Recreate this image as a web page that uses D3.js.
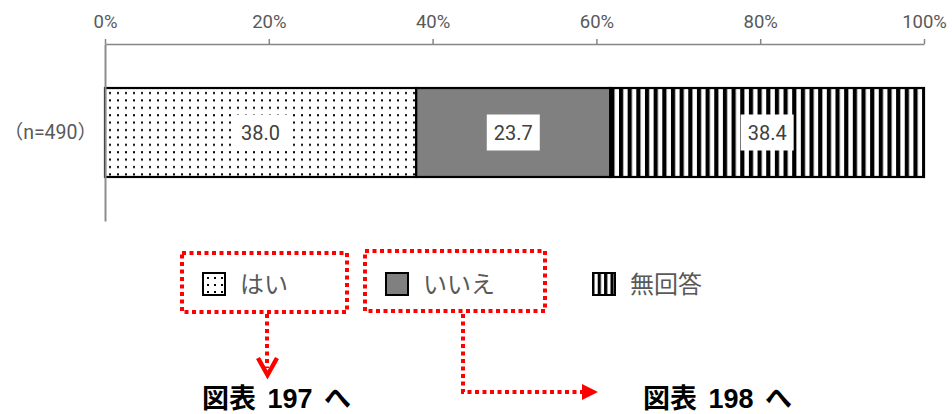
<!DOCTYPE html>
<html>
<head>
<meta charset="utf-8">
<script src="https://cdn.jsdelivr.net/npm/d3@7"></script>
<style>
  html, body { margin: 0; padding: 0; background: #fff; }
  svg { display: block; font-family: "Noto Sans CJK JP", "Noto Sans", sans-serif; }
</style>
</head>
<body>
<svg id="chart" width="952" height="414"></svg>
<script>
// ---- data ----
const categories = ["（n=490）"];
const seriesNames = ["はい", "いいえ", "無回答"];
const seriesValues = [38.0, 23.7, 38.4];
const tickValues = [0, 20, 40, 60, 80, 100];
const tickLabels = ["0%", "20%", "40%", "60%", "80%", "100%"];
const linkLabels = ["図表 197 へ", "図表 198 へ"];

const svg = d3.select("#chart");
const W = 952, H = 414;
const margin = { left: 105, right: 28, top: 44 };
const axisBottom = 221;

const x = d3.scaleLinear().domain([0, 100]).range([margin.left, W - margin.right]);
const y = d3.scaleBand().domain(categories).range([margin.top, axisBottom]).padding(0.331);

// ---- patterns ----
const defs = svg.append("defs");
const pDots = defs.append("pattern").attr("id", "dots").attr("patternUnits", "userSpaceOnUse")
  .attr("width", 8).attr("height", 7.4).attr("x", x(0) + 1).attr("y", y(categories[0]) + 2);
pDots.append("rect").attr("width", 8).attr("height", 7.4).attr("fill", "#fff");
pDots.append("rect").attr("x", 3).attr("y", 2).attr("width", 2).attr("height", 2).attr("fill", "#000");

const pStripe = defs.append("pattern").attr("id", "stripes").attr("patternUnits", "userSpaceOnUse")
  .attr("width", 8.66).attr("height", 10).attr("x", x(61.7));
pStripe.append("rect").attr("width", 8.66).attr("height", 10).attr("fill", "#fff");
pStripe.append("rect").attr("width", 4.2).attr("height", 10).attr("fill", "#000");

const fills = ["url(#dots)", "#808080", "url(#stripes)"];

// ---- axes ----
const gx = svg.append("g").attr("transform", `translate(0,${margin.top})`)
  .call(d3.axisTop(x).tickValues(tickValues).tickFormat((d, i) => tickLabels[i])
    .tickSize(5).tickSizeOuter(0).tickPadding(11));
gx.select(".domain").attr("stroke", "#868686").attr("stroke-width", 1.5);
gx.selectAll(".tick line").attr("stroke", "#868686").attr("stroke-width", 1.5);
gx.selectAll(".tick text").attr("fill", "#595959").style("font-size", "18.5px")
  .style("font-family", "Roboto, 'Noto Sans', sans-serif");

// ---- stacked bar ----
const stackData = [];
let acc = 0;
seriesValues.forEach((v, i) => { stackData.push({ name: seriesNames[i], v, x0: acc, x1: acc + v, fill: fills[i] }); acc += v; });

const bar = svg.append("g");
bar.selectAll("rect").data(stackData).join("rect")
  .attr("x", d => x(d.x0)).attr("width", d => x(Math.min(d.x1, 100)) - x(d.x0))
  .attr("y", y(categories[0])).attr("height", y.bandwidth())
  .attr("fill", d => d.fill).attr("stroke", "#000").attr("stroke-width", 2.2);

const gy = svg.append("g").attr("transform", `translate(${margin.left},0)`)
  .call(d3.axisLeft(y).tickSize(0).tickPadding(8).tickSizeOuter(0));
gy.select(".domain").attr("stroke", "#8c8c8c").attr("stroke-width", 2);
gy.selectAll(".tick text").attr("fill", "#595959").style("font-size", "19.5px")
  .style("font-family", "Roboto, 'Noto Sans CJK JP', sans-serif");

// labels
const lbl = svg.append("g").selectAll("g").data(stackData).join("g")
  .attr("transform", d => `translate(${x((d.x0 + Math.min(d.x1, 100)) / 2)},${y(categories[0]) + y.bandwidth() / 2})`);
lbl.append("rect").attr("x", -26.5).attr("y", -18).attr("width", 53).attr("height", 36).attr("fill", "#fff");
lbl.append("text").attr("text-anchor", "middle").attr("dy", "0.36em")
  .attr("fill", "#404040").style("font-size", "20px")
  .style("font-family", "Roboto, 'Noto Sans', sans-serif")
  .text(d => d.v.toFixed(1));

// ---- legend ----
const legX = [203, 386, 593];
const legY = 273, sq = 22;
const pLegStripe = defs.append("pattern").attr("id", "legstripes").attr("patternUnits", "userSpaceOnUse")
  .attr("width", 6.4).attr("height", 10).attr("x", legX[2] + 0.5);
pLegStripe.append("rect").attr("width", 6.4).attr("height", 10).attr("fill", "#fff");
pLegStripe.append("rect").attr("width", 3.2).attr("height", 10).attr("fill", "#000");
const pLegDots = defs.append("pattern").attr("id", "legdots").attr("patternUnits", "userSpaceOnUse")
  .attr("width", 7).attr("height", 7).attr("x", legX[0] + 1).attr("y", legY + 1);
pLegDots.append("rect").attr("width", 7).attr("height", 7).attr("fill", "#fff");
pLegDots.append("rect").attr("x", 3).attr("y", 3).attr("width", 2).attr("height", 2).attr("fill", "#000");
const legFills = ["url(#legdots)", "#808080", "url(#legstripes)"];

const leg = svg.append("g").selectAll("g").data(seriesNames).join("g")
  .attr("transform", (d, i) => `translate(${legX[i]},${legY})`);
leg.append("rect").attr("width", sq).attr("height", sq).attr("fill", (d, i) => legFills[i])
  .attr("stroke", "#000").attr("stroke-width", 2);
leg.append("text").attr("x", sq + 15).attr("y", sq / 2).attr("dy", "0.36em")
  .attr("fill", "#595959").style("font-size", "24px").text(d => d);

// ---- red dotted callouts ----
const red = "#ff0000";
const dash = { "stroke": red, "stroke-width": 4, "stroke-dasharray": "4 3.5", "fill": "none" };
function applyDash(sel) { Object.entries(dash).forEach(([k, v]) => sel.attr(k, v)); return sel; }

const callouts = svg.append("g");
applyDash(callouts.append("rect").attr("x", 182).attr("y", 253).attr("width", 165).attr("height", 59));
applyDash(callouts.append("rect").attr("x", 365).attr("y", 251).attr("width", 180).attr("height", 60));

applyDash(callouts.append("path").attr("d", "M267,314 V368"));
callouts.append("path").attr("d", "M258,358 L267.5,375 L277,358")
  .attr("stroke", red).attr("stroke-width", 4.5).attr("fill", "none").attr("stroke-linejoin", "miter");

applyDash(callouts.append("path").attr("d", "M463,314 V392 H584"));
callouts.append("path").attr("d", "M582,384 L598,392 L582,400 Z").attr("fill", red);

svg.append("g").selectAll("text").data(linkLabels).join("text")
  .attr("x", (d, i) => [202, 643][i]).attr("y", 408)
  .attr("fill", "#000").style("font-size", "27px").style("font-weight", "bold")
  .style("word-spacing", "4px")
  .style("font-family", "'Liberation Sans', 'Noto Sans CJK JP', sans-serif")
  .text(d => d);
</script>
</body>
</html>
